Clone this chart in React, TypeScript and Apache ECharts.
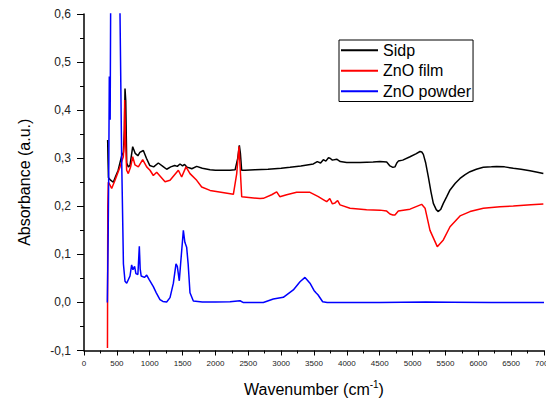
import React, { useEffect, useRef } from "react";
import * as echarts from "echarts";

// Wavenumber ticks
const xTicks = [0, 500, 1000, 1500, 2000, 2500, 3000, 3500, 4000, 4500, 5000, 5500, 6000, 6500, 7000];
const yTicks = [-0.1, 0, 0.1, 0.2, 0.3, 0.4, 0.5, 0.6];
const seriesNames = ["Sidp", "ZnO film", "ZnO powder"];

// Sidp
const sidpX = [360, 365, 372, 380, 400, 446, 480, 520, 573, 600, 615, 624, 635, 650, 674, 700, 741, 780, 820, 850, 903, 950, 1000, 1060, 1131, 1200, 1258, 1320, 1380, 1420, 1461, 1500, 1530, 1562, 1600, 1640, 1715, 1800, 1918, 2000, 2100, 2222, 2300, 2340, 2364, 2380, 2399, 2450, 2600, 2800, 3000, 3135, 3300, 3490, 3550, 3600, 3642, 3680, 3720, 3744, 3780, 3845, 3900, 3997, 4200, 4400, 4504, 4606, 4656, 4700, 4732, 4760, 4783, 4850, 4961, 5050, 5113, 5140, 5164, 5200, 5240, 5280, 5316, 5360, 5392, 5430, 5468, 5520, 5570, 5650, 5722, 5800, 5874, 5970, 6076, 6200, 6280, 6400, 6533, 6650, 6787, 6900, 6990];
const sidpY = [0.338, 0.30, 0.26, 0.258, 0.255, 0.25, 0.262, 0.275, 0.305, 0.312, 0.36, 0.445, 0.42, 0.29, 0.282, 0.285, 0.324, 0.31, 0.305, 0.312, 0.316, 0.30, 0.285, 0.282, 0.29, 0.283, 0.277, 0.282, 0.285, 0.283, 0.288, 0.284, 0.287, 0.282, 0.28, 0.278, 0.283, 0.279, 0.276, 0.275, 0.275, 0.275, 0.276, 0.30, 0.327, 0.31, 0.275, 0.275, 0.276, 0.277, 0.279, 0.281, 0.284, 0.288, 0.293, 0.29, 0.297, 0.294, 0.301, 0.30, 0.296, 0.298, 0.293, 0.291, 0.291, 0.292, 0.293, 0.292, 0.284, 0.281, 0.282, 0.29, 0.294, 0.296, 0.303, 0.309, 0.314, 0.313, 0.308, 0.29, 0.261, 0.23, 0.206, 0.193, 0.189, 0.194, 0.206, 0.22, 0.234, 0.248, 0.258, 0.266, 0.272, 0.277, 0.281, 0.282, 0.283, 0.282, 0.279, 0.277, 0.274, 0.271, 0.268];

// ZnO film
const filmX = [357, 362, 370, 396, 421, 472, 548, 598, 612, 619, 634, 649, 674, 710, 741, 776, 827, 893, 954, 1004, 1055, 1106, 1233, 1309, 1436, 1486, 1552, 1613, 1715, 1791, 1918, 2273, 2324, 2359, 2400, 2679, 2729, 2856, 2932, 2980, 3084, 3236, 3439, 3566, 3640, 3693, 3740, 3780, 3820, 3860, 3896, 4048, 4300, 4504, 4606, 4656, 4700, 4732, 4783, 4961, 5138, 5190, 5265, 5376, 5468, 5570, 5722, 5874, 6076, 6330, 6533, 6800, 6990];
const filmY = [-0.095, 0.2, 0.25, 0.244, 0.237, 0.254, 0.282, 0.303, 0.33, 0.421, 0.33, 0.275, 0.268, 0.282, 0.303, 0.286, 0.282, 0.297, 0.282, 0.275, 0.264, 0.271, 0.251, 0.254, 0.275, 0.261, 0.282, 0.268, 0.254, 0.24, 0.233, 0.225, 0.268, 0.325, 0.22, 0.216, 0.2165, 0.224, 0.23, 0.22, 0.224, 0.229, 0.229, 0.22, 0.214, 0.2095, 0.216, 0.205, 0.207, 0.212, 0.203, 0.196, 0.193, 0.192, 0.19, 0.184, 0.182, 0.182, 0.19, 0.194, 0.204, 0.196, 0.15, 0.116, 0.13, 0.1575, 0.18, 0.189, 0.196, 0.199, 0.2005, 0.203, 0.2047];

// ZnO powder
const powderX = [355, 368, 378, 385, 392, 398, 405, 420, 500, 548, 573, 600, 624, 650, 700, 725, 745, 770, 790, 820, 842, 855, 870, 920, 954, 990, 1055, 1100, 1156, 1200, 1258, 1309, 1360, 1400, 1420, 1450, 1470, 1512, 1535, 1562, 1585, 1613, 1664, 1800, 2000, 2222, 2374, 2420, 2729, 2881, 3033, 3185, 3287, 3363, 3439, 3500, 3530, 3560, 3632, 3700, 4500, 5200, 5600, 6200, 7000];
const powderY = [0.0, 0.14, 0.3, 0.47, 0.45, 0.38, 0.6, 0.9, 1.2, 0.6, 0.3, 0.08, 0.044, 0.04, 0.055, 0.078, 0.068, 0.075, 0.06, 0.058, 0.117, 0.07, 0.055, 0.052, 0.057, 0.048, 0.033, 0.02, 0.006, 0.002, 0.001, 0.01, 0.04, 0.08, 0.075, 0.045, 0.08, 0.15, 0.125, 0.115, 0.08, 0.02, 0.003, 0.001, 0.001, 0.0015, 0.0035, 0.0, 0.0, 0.007, 0.0106, 0.026, 0.043, 0.052, 0.04, 0.025, 0.02, 0.016, 0.0015, 0.0, 0.0, 0.001, 0.0005, 0.0, 0.0];

const colors = ["#000000", "#ff0000", "#0000ff"];
const FONT = "Liberation Sans, Arial, sans-serif";

const pairs = (xs: number[], ys: number[]) => xs.map((x, i) => [x, ys[i]]);

export default function App() {
  const ref = useRef<HTMLDivElement>(null);
  useEffect(() => {
    document.body.style.margin = "0";
    if (!ref.current) return;
    const chart = echarts.init(ref.current, null, { renderer: "svg" });
    const data = [pairs(sidpX, sidpY), pairs(filmX, filmY), pairs(powderX, powderY)];
    chart.setOption({
      animation: false,
      backgroundColor: "#ffffff",
      textStyle: { fontFamily: FONT },
      grid: {
        left: 84,
        top: 14,
        width: 460,
        height: 336.5,
        containLabel: false,
        outerBoundsMode: "none",
      },
      legend: {
        orient: "vertical",
        left: 339,
        top: 40,
        padding: [0, 2, 0, 2],
        itemGap: 0,
        itemWidth: 37,
        itemHeight: 2,
        icon: "rect",
        borderColor: "#000",
        borderWidth: 1,
        borderRadius: 0,
        data: seriesNames,
        textStyle: { fontSize: 16, lineHeight: 20.5, color: "#000", fontFamily: FONT },
      },
      xAxis: {
        type: "value",
        min: xTicks[0],
        max: xTicks[xTicks.length - 1],
        interval: xTicks[1] - xTicks[0],
        name: "Wavenumber (cm{sup|-1})",
        nameLocation: "middle",
        nameGap: 29,
        nameTextStyle: {
          fontSize: 16,
          color: "#000",
          fontFamily: FONT,
          rich: { sup: { fontSize: 10, padding: [0, 0, 9, 0], color: "#000", fontFamily: FONT } },
        },
        axisLine: { show: true, onZero: false, lineStyle: { color: "#000", width: 1.5 } },
        axisTick: { show: true, inside: false, length: 5, lineStyle: { color: "#000", width: 1 } },
        minorTick: { show: true, splitNumber: 2, length: 3, lineStyle: { color: "#000", width: 1 } },
        axisLabel: {
          fontSize: 8,
          color: "#222",
          margin: 9,
          fontFamily: FONT,
          hideOverlap: false,
          formatter: (v: number) => String(Math.round(v)),
        },
        splitLine: { show: false },
      },
      yAxis: {
        type: "value",
        min: yTicks[0],
        max: yTicks[yTicks.length - 1],
        interval: 0.1,
        name: "Absorbance (a.u.)",
        nameLocation: "middle",
        nameGap: 52,
        nameTextStyle: { fontSize: 16, color: "#000", fontFamily: FONT },
        axisLine: { show: true, onZero: false, lineStyle: { color: "#000", width: 1.5 } },
        axisTick: { show: true, inside: false, length: 7, lineStyle: { color: "#000", width: 1 } },
        minorTick: { show: true, splitNumber: 2, length: 4, lineStyle: { color: "#000", width: 1 } },
        axisLabel: {
          fontSize: 12,
          color: "#222",
          margin: 13,
          fontFamily: FONT,
          formatter: (v: number) => v.toFixed(1).replace(".", ","),
        },
        splitLine: { show: false },
      },
      series: seriesNames.map((name, i) => ({
        name,
        type: "line",
        data: data[i],
        showSymbol: false,
        symbol: "none",
        clip: true,
        lineStyle: { color: colors[i], width: 1.5 },
        itemStyle: { color: colors[i] },
      })),
    });
    return () => chart.dispose();
  }, []);
  return <div ref={ref} style={{ width: 546, height: 401 }} />;
}
